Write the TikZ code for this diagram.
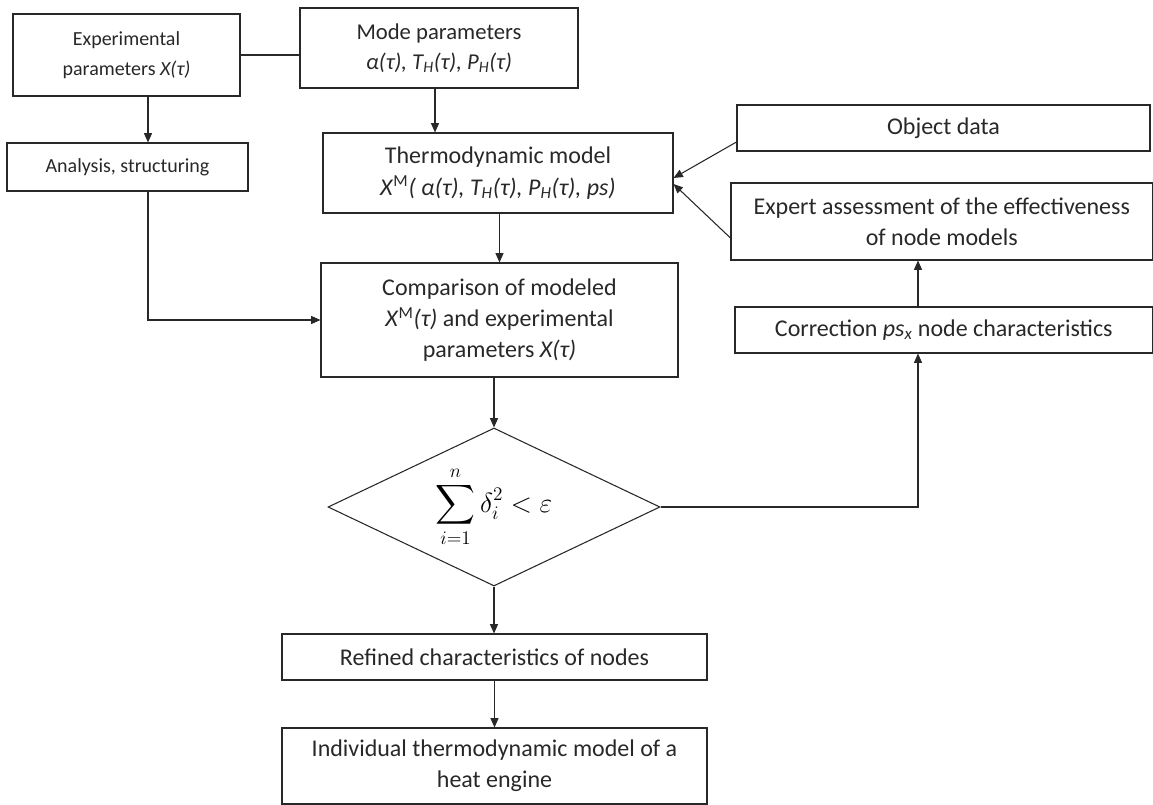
\documentclass[tikz,border=0pt]{standalone}
\usepackage{amsmath}
\usepackage{fontspec}
\setmainfont{Carlito}
\usepackage{tikz}
\usetikzlibrary{shapes.geometric, arrows.meta, calc}
\definecolor{FlowInk}{RGB}{40,40,40}
\definecolor{FlowText}{RGB}{40,40,40}
\newcommand{\pix}{0.75pt}

\begin{document}
\begin{tikzpicture}[x=0.75pt, y=-0.75pt,
      box/.style={rectangle, draw=FlowInk, line width=0.8pt, align=center,
                  inner sep=2pt, text=FlowText, font=\fontsize{18}{23.5}\selectfont},
      txtS/.style={font=\fontsize{15}{22.5}\selectfont},
      txtM/.style={font=\fontsize{17}{22.5}\selectfont},
      dec/.style={diamond, draw=FlowInk, line width=0.8pt, aspect=2.1,
                  inner sep=0pt, minimum width=332*\pix, minimum height=158*\pix},
      arr/.style={-{Triangle[length=7pt, width=6pt]}, line width=0.8pt, FlowInk},
      ln/.style={line width=0.8pt, FlowInk}
    ]
    \useasboundingbox (0,0) rectangle (1153,805);

    %--- Inputs (top) ---
    \node[box, txtS, minimum width=227*\pix, minimum height=82*\pix]
          (exppar) at (126.5, 55) {Experimental\\parameters \textit{X(τ)}};
    \node[box, txtM, minimum width=278*\pix, minimum height=80*\pix]
          (modepar) at (439, 48)
          {Mode parameters\\\textit{α(τ), T\textsubscript{H}(τ), P\textsubscript{H}(τ)}};
    \draw[ln] (exppar.east) -- (exppar.east -| modepar.west);

    \node[box, txtS, minimum width=241*\pix, minimum height=48*\pix]
          (analysis) at (127.5, 167) {Analysis, structuring};
    \draw[arr] ([xshift=21.5*\pix]exppar.south) -- ([xshift=21.5*\pix]exppar.south |- analysis.north);

    %--- Model ---
    \node[box, minimum width=350*\pix, minimum height=80*\pix]
          (thermo) at (498, 173)
          {Thermodynamic model\\\textit{X}\textsuperscript{M}\textit{( α(τ), T\textsubscript{H}(τ), P\textsubscript{H}(τ), ps)}};
    \draw[arr] ([xshift=-4*\pix]modepar.south) -- ([xshift=-4*\pix]modepar.south |- thermo.north);

    \node[box, minimum width=413*\pix, minimum height=46*\pix]
          (objdata) at (943.5, 128) {Object data};
    \node[box, minimum width=421.5*\pix, minimum height=77*\pix]
          (expert) at (941.75, 221.5)
          {Expert assessment of the effectiveness\\of node models};
    \draw[arr] ([yshift=-14*\pix]objdata.west) -- ([yshift=-5*\pix]thermo.east);
    \draw[arr] ([yshift=-16.5*\pix]expert.west) -- ([yshift=-11*\pix]thermo.east);

    %--- Comparison and check ---
    \node[box, minimum width=357*\pix, minimum height=114*\pix]
          (compare) at (499.5, 320)
          {Comparison of modeled\\\textit{X}\textsuperscript{M}\textit{(τ)} and experimental\\parameters \textit{X(τ)}};
    \draw[arr] (thermo.south -| compare.north) -- (compare.north);
    \draw[arr] ([xshift=20.5*\pix]analysis.south) |- (compare.west);

    \node[dec] (crit) at (494, 507)
          {\fontsize{21}{24}\selectfont$\displaystyle\sum_{i=1}^{n}\delta_i^2<\varepsilon$};
    \draw[arr] (compare.south -| crit.north) -- (crit.north);

    \node[box, minimum width=417.5*\pix, minimum height=46*\pix]
          (corr) at (943.75, 330)
          {Correction \textit{ps\textsubscript{x}} node characteristics};
    \draw[arr] (crit.east) -| ([xshift=-25.75*\pix]corr.south);
    \draw[arr] ([xshift=-25.75*\pix]corr.north) -- ([xshift=-25.75*\pix]corr.north |- expert.south);

    %--- Results (bottom) ---
    \node[box, minimum width=425*\pix, minimum height=46*\pix]
          (refined) at (494.5, 657) {Refined characteristics of nodes};
    \node[box, minimum width=425*\pix, minimum height=76*\pix]
          (indiv) at (494.5, 766)
          {Individual thermodynamic model of a\\heat engine};
    \draw[arr] (crit.south) -- (crit.south |- refined.north);
    \draw[arr] (refined.south) -- (indiv.north);
  \end{tikzpicture}
\end{document}
